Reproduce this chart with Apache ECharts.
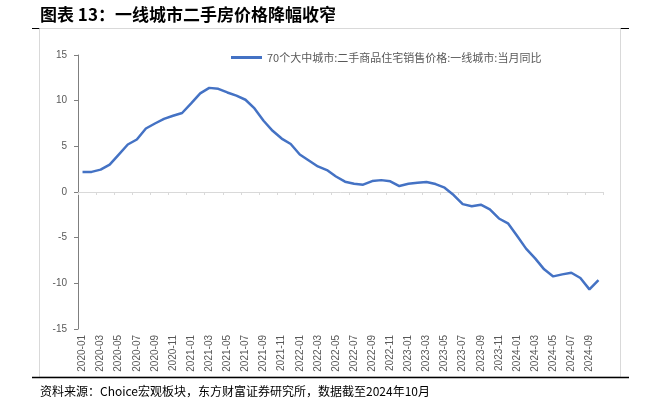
<!DOCTYPE html>
<html><head><meta charset="utf-8">
<script src="https://cdn.jsdelivr.net/npm/echarts@6/dist/echarts.min.js"></script>
<style>html,body{margin:0;padding:0;background:#fff;}#c{width:651px;height:404px;}</style>
</head><body><div id="c"></div>
<script>
const titleText = '图表 13：一线城市二手房价格降幅收窄';
const sourceText = '资料来源：Choice宏观板块，东方财富证券研究所，数据截至2024年10月';
const seriesName = '70个大中城市:二手商品住宅销售价格:一线城市:当月同比';
const categories = [];
for (let y = 2020; y <= 2024; y++) {
  for (let m = 1; m <= 12; m++) {
    if (y === 2024 && m > 10) break;
    categories.push(y + '-' + (m < 10 ? '0' + m : m));
  }
}
const values = [
  2.2, 2.2, 2.45, 3.0, 4.1, 5.2, 5.75, 6.95, 7.5, 8.0, 8.35, 8.65,
  9.7, 10.8, 11.4, 11.3, 10.9, 10.55, 10.1, 9.15, 7.8, 6.7, 5.85, 5.25,
  4.1, 3.45, 2.8, 2.4, 1.7, 1.13, 0.9, 0.8, 1.2, 1.3, 1.17, 0.65,
  0.9, 1.0, 1.1, 0.87, 0.47, -0.33, -1.33, -1.55, -1.39, -1.9, -2.9, -3.43,
  -4.8, -6.2, -7.27, -8.47, -9.24, -9.02, -8.84, -9.42, -10.66, -9.64
];
const yMin = -15, yMax = 15, yStep = 5;

const chart = echarts.init(document.getElementById('c'), null, {renderer: 'canvas'});
chart.setOption({
  animation: false,
  backgroundColor: '#fff',
  graphic: [
    {type: 'line', shape: {x1: 32, y1: 28.5, x2: 629, y2: 28.5}, style: {stroke: '#000', lineWidth: 1}, z: 1},
    {type: 'rect', shape: {x: 39.5, y: 28.5, width: 581, height: 348.5}, style: {fill: 'none', stroke: '#d9d9d9', lineWidth: 1}, z: 2},
    {type: 'line', shape: {x1: 32, y1: 377.5, x2: 629, y2: 377.5}, style: {stroke: '#000', lineWidth: 1.5}, z: 3},
    {type: 'text', left: 40, top: 6, style: {text: titleText, fill: '#000', font: 'bold 17px "Noto Sans CJK SC", sans-serif'}},
    {type: 'text', left: 40, top: 385, style: {text: sourceText, fill: '#000', font: '12px "Noto Sans CJK SC", sans-serif'}}
  ],
  legend: {
    data: [seriesName],
    left: 226, top: 47,
    icon: 'rect', itemWidth: 31, itemHeight: 3,
    textStyle: {color: '#595959', fontSize: 11, fontFamily: '"Noto Sans CJK SC", sans-serif'}
  },
  grid: {left: 78, right: 48, top: 55, bottom: 75, containLabel: false},
  xAxis: [
    {
      type: 'category', data: categories, position: 'bottom', boundaryGap: true,
      axisLine: {show: false, onZero: false},
      axisTick: {show: false},
      axisLabel: {interval: 1, rotate: 90, margin: 6, color: '#595959', fontSize: 10,
        fontFamily: '"Liberation Sans Narrow", "Liberation Sans", sans-serif'}
    },
    {
      type: 'category', data: categories, position: 'bottom', boundaryGap: true,
      axisLine: {show: true, onZero: true, lineStyle: {color: '#d9d9d9', width: 1}},
      axisTick: {show: true, interval: 1, length: 3, lineStyle: {color: '#d9d9d9'}},
      axisLabel: {show: false}
    }
  ],
  yAxis: {
    type: 'value', min: yMin, max: yMax, interval: yStep,
    axisLine: {show: true, lineStyle: {color: '#7f7f7f', width: 1}},
    axisTick: {show: true, length: 4, lineStyle: {color: '#7f7f7f'}},
    splitLine: {show: false},
    axisLabel: {color: '#595959', fontSize: 10, margin: 11, fontFamily: '"Liberation Sans", sans-serif'}
  },
  series: [{
    name: seriesName, type: 'line', data: values, xAxisIndex: 0,
    showSymbol: false, symbol: 'none', smooth: false,
    lineStyle: {color: '#4472C4', width: 2.5},
    itemStyle: {color: '#4472C4'}
  }]
});
</script></body></html>
